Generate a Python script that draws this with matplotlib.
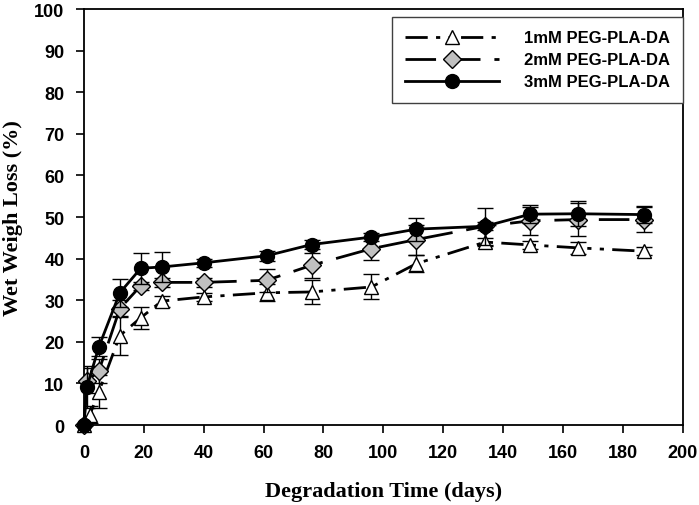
import matplotlib
matplotlib.use('Agg')
import matplotlib.pyplot as plt
import numpy as np

# days
t_1mM = [0, 2, 5, 12, 19, 26, 40, 61, 76, 96, 111, 134, 149, 165, 187]
t_23mM = [0, 1, 5, 12, 19, 26, 40, 61, 76, 96, 111, 134, 149, 165, 187]

# wet weight loss (%)
loss_1mM = [0, 2.5, 8, 21.5, 25.8, 29.8, 30.8, 31.8, 32.0, 33.2, 38.8, 44.0, 43.3, 42.6, 41.8]
err_1mM = [0, 2, 4, 4.6, 2.6, 1.3, 1.0, 2.0, 2.8, 3.0, 2.0, 1.0, 1.0, 1.5, 1.0]
loss_2mM = [0, 10.6, 13.0, 28.0, 33.5, 34.3, 34.3, 34.8, 38.4, 42.4, 44.6, 47.8, 49.1, 49.4, 49.4]
err_2mM = [0, 3, 3, 2, 1, 1, 1, 2.8, 3.0, 2.8, 3.6, 1.0, 3.4, 4.0, 3.0]
loss_3mM = [0, 9.1, 18.8, 31.8, 37.7, 38.0, 39.0, 40.7, 43.4, 45.2, 47.1, 47.8, 50.7, 50.8, 50.6]
err_3mM = [0, 5, 2.3, 3.3, 3.7, 3.5, 1.0, 1.2, 1.0, 1.0, 2.8, 4.5, 2.2, 3.0, 2.0]

labels = ['1mM PEG-PLA-DA', '2mM PEG-PLA-DA', '3mM PEG-PLA-DA']

narrow = ['Liberation Sans Narrow', 'Liberation Sans', 'DejaVu Sans']
serif = ['Liberation Serif', 'DejaVu Serif']

fig = plt.figure(figsize=(6.99, 5.06), dpi=100)
ax = fig.add_axes([0.120, 0.158, 0.857, 0.822])

eb1 = ax.errorbar(t_1mM, loss_1mM, yerr=err_1mM, color='black', lw=2,
                  dashes=[8, 3, 1.5, 3, 1.5, 3], marker='^', ms=10, mfc='white',
                  mec='black', mew=1, ecolor='black', elinewidth=1, capsize=6,
                  capthick=1, zorder=2)
eb2 = ax.errorbar(t_23mM, loss_2mM, yerr=err_2mM, color='black', lw=2,
                  dashes=[11, 5], marker='D', ms=9, mfc='#c0c0c0',
                  mec='black', mew=1, ecolor='black', elinewidth=1, capsize=6,
                  capthick=1, zorder=3)
eb3 = ax.errorbar(t_23mM, loss_3mM, yerr=err_3mM, color='black', lw=2,
                  ls='-', marker='o', ms=10, mfc='black',
                  mec='black', ecolor='black', elinewidth=1, capsize=6,
                  capthick=1, zorder=4)
for eb in (eb1, eb2, eb3):
    eb[0].set_clip_on(False)

ax.set_xlim(0, 200)
ax.set_ylim(0, 100)
ax.set_xticks(np.arange(0, 201, 20))
ax.set_yticks(np.arange(0, 101, 10))
ax.tick_params(direction='out', length=6, width=1.2, top=False, right=False, pad=8)
for lab in ax.get_xticklabels() + ax.get_yticklabels():
    lab.set_family(narrow)
    lab.set_fontweight('bold')
    lab.set_fontsize(13)
for s in ax.spines.values():
    s.set_linewidth(1.3)

ax.set_xlabel('Degradation Time (days)', family=serif, fontweight='bold', fontsize=16, labelpad=14)
ax.set_ylabel('Wet Weigh Loss (%)', family=serif, fontweight='bold', fontsize=16, labelpad=8)

leg = ax.legend([eb1[0], eb2[0], eb3[0]], labels, loc='upper right',
                bbox_to_anchor=(1.0, 0.981),
                fancybox=False, framealpha=1, edgecolor='#404040',
                handlelength=5.6, handletextpad=1.5, borderpad=0.8,
                labelspacing=0.42, borderaxespad=0,
                prop={'family': ['Liberation Sans', 'DejaVu Sans'], 'weight': 'bold', 'size': 12})
leg.get_frame().set_linewidth(1.0)

fig.savefig('out.png', dpi=100)
